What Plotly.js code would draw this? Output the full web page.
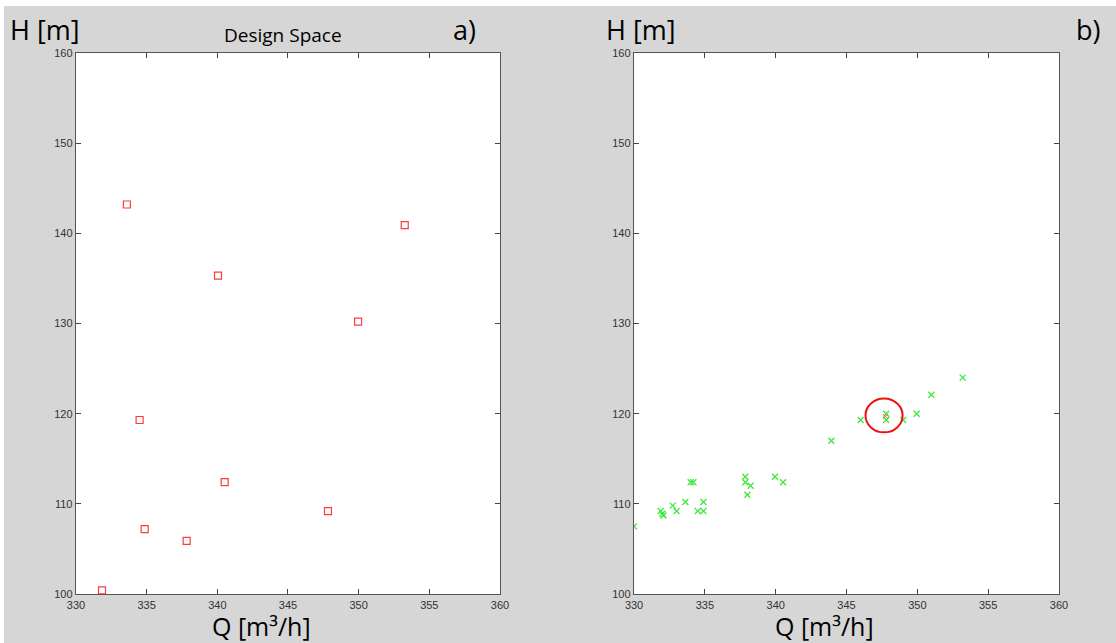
<!DOCTYPE html>
<html>
<head>
<meta charset="utf-8">
<script src="https://cdn.plot.ly/plotly-3.0.1.min.js"></script>
<style>
html,body{margin:0;padding:0;background:#ffffff;width:1116px;height:643px;overflow:hidden;}
#chart{position:absolute;left:4px;top:6px;width:1112px;height:637px;}
</style>
</head>
<body>
<div id="chart"></div>
<script>
// Panel a) Design Space samples
const designQ = [333.6, 353.26, 340.05, 349.96, 334.5, 340.52, 347.83, 334.86, 337.83, 331.84];
const designH = [143.2, 140.9, 135.3, 130.2, 119.3, 112.4, 109.2, 107.2, 105.9, 100.4];

// Panel b) results
const resultQ = [330.0, 331.88, 332.0, 332.07, 332.73, 333.0, 333.62, 334.0, 334.19, 334.5, 334.9, 334.9,
                 337.85, 337.85, 338.23, 338.0, 339.95, 340.52, 343.93, 346.0, 347.8, 347.8, 349.0, 349.95, 350.99, 353.2];
const resultH = [107.5, 109.2, 108.9, 108.7, 109.8, 109.2, 110.2, 112.4, 112.4, 109.2, 109.2, 110.2,
                 113.0, 112.4, 112.0, 111.0, 113.0, 112.4, 117.0, 119.3, 120.0, 119.3, 119.3, 120.0, 122.1, 124.0];

// Highlighted optimum (red) in panel b
const optimumQ = [347.75];
const optimumH = [119.7];
const circleCenter = [347.65, 119.8];
const circleRadius = [1.31, 1.87];

const xTicks = [330, 335, 340, 345, 350, 355, 360];
const yTicks = [100, 110, 120, 130, 140, 150, 160];
const xRange = [330, 360];
const yRange = [100, 160];

const titleText = 'Design Space';
const yLabel = 'H [m]';
const xLabel = 'Q [m³/h]';
const panelLabels = ['a)', 'b)'];

const bigFont = {family: 'Open Sans, Lato, sans-serif', size: 27, color: '#000'};

function axis(domain, anchor, vals) {
  return {
    domain: domain, anchor: anchor, range: vals === xTicks ? xRange : yRange,
    tickvals: vals, ticktext: vals.map(String), ticks: 'inside', ticklen: 5, tickwidth: 1,
    tickcolor: '#444', showline: true, linecolor: '#555', linewidth: 1.3, mirror: 'ticks',
    showgrid: false, zeroline: false,
    tickfont: {family: 'Liberation Sans, Arial, sans-serif', size: 11, color: '#333'}
  };
}

const traces = [
  {x: designQ, y: designH, xaxis: 'x', yaxis: 'y', type: 'scatter', mode: 'markers',
   marker: {symbol: 'square-open', size: 7, color: '#ff3b3b', line: {width: 1.2}}},
  {x: resultQ, y: resultH, xaxis: 'x2', yaxis: 'y2', type: 'scatter', mode: 'markers',
   marker: {symbol: 'x-thin-open', size: 6, color: '#3ee83e', line: {width: 1.3, color: '#3ee83e'}}},
  {x: optimumQ, y: optimumH, xaxis: 'x2', yaxis: 'y2', type: 'scatter', mode: 'markers',
   marker: {symbol: 'x-thin-open', size: 5, color: '#ff5555', line: {width: 1, color: '#ff5555'}}}
];

const dA = [0, 0.4313];
const dB = [0.5677, 1];

const qFont = {family: 'Open Sans, Lato, sans-serif', size: 25, color: '#000'};

const layout = {
  width: 1112, height: 637,
  margin: {l: 72, r: 57, t: 47, b: 49},
  paper_bgcolor: '#d6d6d6', plot_bgcolor: '#ffffff',
  showlegend: false,
  xaxis: axis(dA, 'y', xTicks),
  yaxis: axis([0, 1], 'x', yTicks),
  xaxis2: axis(dB, 'y2', xTicks),
  yaxis2: axis([0, 1], 'x2', yTicks),
  shapes: [
    {type: 'circle', xref: 'x2', yref: 'y2',
     x0: circleCenter[0] - circleRadius[0], x1: circleCenter[0] + circleRadius[0],
     y0: circleCenter[1] - circleRadius[1], y1: circleCenter[1] + circleRadius[1],
     line: {color: '#ee1111', width: 2}}
  ],
  annotations: [
    {text: yLabel, xref: 'paper', yref: 'paper', x: -0.069, y: 1.0, xanchor: 'left', yanchor: 'bottom', yshift: 3, showarrow: false, font: bigFont},
    {text: yLabel, xref: 'paper', yref: 'paper', x: 0.537, y: 1.0, xanchor: 'left', yanchor: 'bottom', yshift: 3, showarrow: false, font: bigFont},
    {text: titleText, xref: 'paper', yref: 'paper', x: 0.211, y: 1.0, xanchor: 'center', yanchor: 'bottom', yshift: 3, showarrow: false, font: {family: 'Open Sans, Lato, sans-serif', size: 19, color: '#000'}},
    {text: panelLabels[0], xref: 'paper', yref: 'paper', x: 0.395, y: 1.0, xanchor: 'center', yanchor: 'bottom', yshift: 3, showarrow: false, font: bigFont},
    {text: panelLabels[1], xref: 'paper', yref: 'paper', x: 1.03, y: 1.0, xanchor: 'center', yanchor: 'bottom', yshift: 3, showarrow: false, font: bigFont},
    {text: xLabel, xref: 'paper', yref: 'paper', x: 0.189, y: 0, xanchor: 'center', yanchor: 'bottom', yshift: -50, borderpad: 0, showarrow: false, font: qFont},
    {text: xLabel, xref: 'paper', yref: 'paper', x: 0.761, y: 0, xanchor: 'center', yanchor: 'bottom', yshift: -50, borderpad: 0, showarrow: false, font: qFont}
  ]
};

Plotly.newPlot('chart', traces, layout, {displayModeBar: false, staticPlot: true});
</script>
</body>
</html>
